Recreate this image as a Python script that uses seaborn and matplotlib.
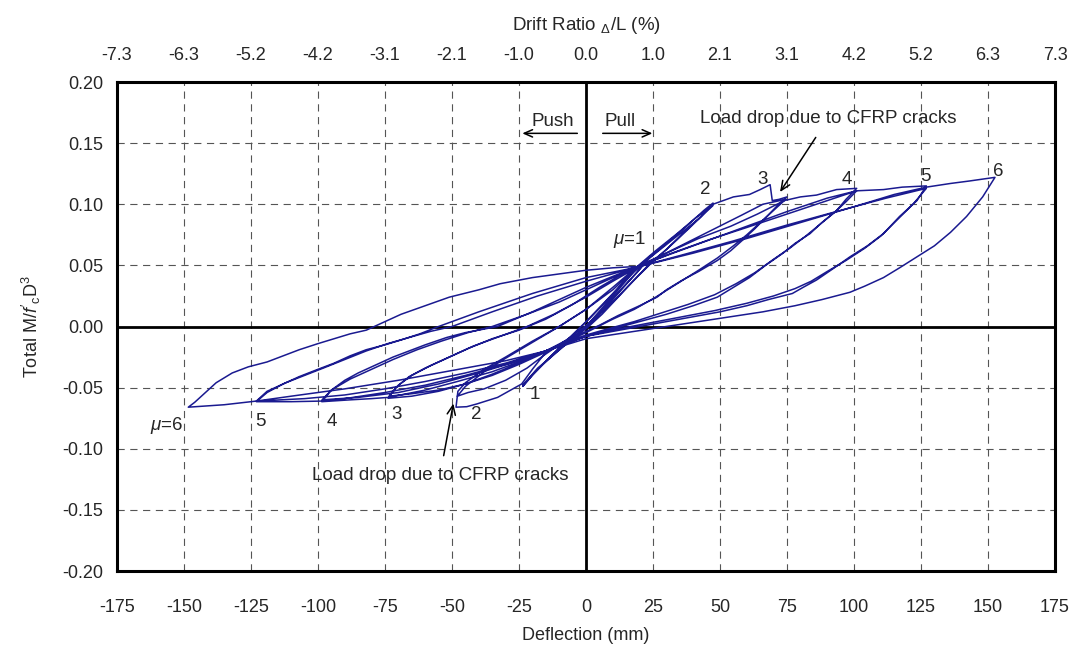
import numpy as np
import pandas as pd
import matplotlib
matplotlib.use("Agg")
import matplotlib.pyplot as plt
import seaborn as sns

# ---------------- data (deflection mm, normalised moment) ----------------
mu1_x = [0, 6, 12, 18, 24,
         20, 14, 8, 2, -4, -10, -16, -20, -23.6,
         -19, -13, -7, 0, 7, 13, 18, 24,
         19, 12, 5, 0, -6, -12, -18, -23.6]
mu1_y = [0, 0.015, 0.03, 0.045, 0.058,
         0.047, 0.032, 0.017, 0.003, -0.008, -0.019, -0.031, -0.04, -0.049,
         -0.037, -0.024, -0.011, 0.004, 0.02, 0.034, 0.046, 0.057,
         0.044, 0.028, 0.011, 0.0, -0.012, -0.023, -0.034, -0.048]

mu2_x = [-19, -12, -5, 2, 9, 16, 22, 30, 38, 44, 47.4,
         43, 38.8, 34, 30, 24, 18, 12, 6, 0, -8, -15, -20, -24, -33, -40.8, -44.5, -48.5, -47.8,
         -45, -38, -30, -20, -10, 0, 10, 18, 26, 34, 41, 47.4,
         42, 36, 30, 24, 17, 10, 3, -4, -10, -16, -22, -30, -38, -44, -48]
mu2_y = [-0.037, -0.022, -0.007, 0.008, 0.024, 0.041, 0.053, 0.068, 0.083, 0.095, 0.101,
         0.09, 0.081, 0.071, 0.063, 0.052, 0.038, 0.024, 0.01, -0.002, -0.013, -0.021, -0.035, -0.047, -0.058, -0.0634, -0.0656, -0.066, -0.053,
         -0.046, -0.035, -0.025, -0.012, 0.0, 0.014, 0.032, 0.047, 0.062, 0.076, 0.089, 0.099,
         0.088, 0.076, 0.063, 0.051, 0.036, 0.02, 0.006, -0.006, -0.015, -0.024, -0.034, -0.044, -0.051, -0.054, -0.057]

mu3_x = [-45, -38, -30, -20, -10, 0, 10, 18, 26, 34, 42, 47.4, 55, 61, 65, 68.7, 69.5, 72, 75,
         71, 67.5, 63, 58.6, 54, 49, 42, 36, 30, 26.5, 20, 12, 5, 0, -8, -15, -25, -35, -45, -55, -65, -73.8,
         -71, -66, -60, -52, -44, -35, -25, -15, -5, 5, 12, 18, 28, 38, 48, 58, 66, 74.5,
         70, 65, 60, 55, 49, 42, 34, 26, 18, 10, 0, -8, -15, -25, -35, -45, -55, -65, -73.5]
mu3_y = [-0.049, -0.037, -0.026, -0.013, 0.0, 0.014, 0.03, 0.046, 0.06, 0.074, 0.088, 0.1, 0.106, 0.108, 0.112, 0.116, 0.103, 0.104, 0.106,
         0.098, 0.09, 0.08, 0.071, 0.062, 0.054, 0.045, 0.038, 0.03, 0.024, 0.017, 0.009, 0.001, -0.004, -0.012, -0.02, -0.03, -0.039, -0.047, -0.053, -0.057, -0.0587,
         -0.05, -0.041, -0.034, -0.026, -0.018, -0.01, -0.003, 0.006, 0.018, 0.032, 0.041, 0.048, 0.058, 0.069, 0.08, 0.091, 0.1, 0.104,
         0.095, 0.085, 0.075, 0.066, 0.056, 0.046, 0.035, 0.024, 0.014, 0.006, -0.005, -0.013, -0.021, -0.031, -0.04, -0.047, -0.052, -0.055, -0.057]

mu4_x = [-70, -65, -58, -50, -42, -32, -22, -12, 0, 10, 18, 30, 42, 54, 64, 74, 80, 86, 93.5, 101,
         97, 93.6, 88, 83.6, 78, 73.5, 67, 61, 55, 49, 40, 30, 20, 10, 0, -8, -15, -25, -35, -48, -60, -73.8, -80, -88, -98.6,
         -95, -90, -85, -78, -72, -66, -60, -52, -45, -33, -20, -10, 0, 10, 18, 30, 45, 60, 75, 90, 101,
         97, 92, 87, 82, 76, 70, 63, 56, 48, 38, 28, 18, 8, 0, -8, -15, -28, -40, -55, -70, -85, -98.5]
mu4_y = [-0.048, -0.04, -0.032, -0.024, -0.016, -0.008, 0.0, 0.01, 0.024, 0.037, 0.047, 0.06, 0.072, 0.082, 0.092, 0.103, 0.106, 0.1075, 0.112, 0.113,
         0.104, 0.095, 0.085, 0.076, 0.068, 0.06, 0.05, 0.04, 0.032, 0.024, 0.017, 0.01, 0.004, -0.002, -0.008, -0.014, -0.02, -0.029, -0.037, -0.045, -0.052, -0.058, -0.059, -0.06, -0.0615,
         -0.052, -0.044, -0.038, -0.031, -0.025, -0.02, -0.015, -0.009, -0.005, 0.0, 0.012, 0.022, 0.032, 0.041, 0.048, 0.058, 0.07, 0.082, 0.094, 0.105, 0.111,
         0.102, 0.092, 0.083, 0.074, 0.064, 0.055, 0.044, 0.035, 0.026, 0.018, 0.011, 0.004, -0.002, -0.007, -0.013, -0.02, -0.03, -0.038, -0.047, -0.054, -0.058, -0.06]

mu5_x = [-95, -88, -80, -72, -63, -54, -44, -35, -22, -10, 0, 10, 18, 32, 46, 60, 75, 90, 101, 111, 118, 127,
         123.5, 117, 111, 105, 98.5, 92, 86, 81, 77, 68, 60, 50, 40, 30, 20, 10, 0, -8, -15, -30, -45, -60, -75, -90, -98.6, -110, -123,
         -119, -113, -107, -100, -94, -88, -82, -75, -69, -62, -55, -40, -20, 0, 18, 35, 55, 75, 95, 112, 127,
         122, 116, 110, 104, 97, 90, 84, 78, 70, 60, 48, 36, 24, 12, 0, -15, -30, -45, -60, -75, -90, -105, -123]
mu5_y = [-0.052, -0.043, -0.035, -0.027, -0.019, -0.012, -0.005, 0.0, 0.01, 0.02, 0.03, 0.04, 0.048, 0.06, 0.071, 0.081, 0.092, 0.103, 0.111, 0.112, 0.114, 0.115,
         0.103, 0.09, 0.076, 0.066, 0.057, 0.047, 0.038, 0.032, 0.027, 0.022, 0.017, 0.012, 0.008, 0.004, 0.0, -0.004, -0.008, -0.014, -0.02, -0.031, -0.04, -0.048, -0.054, -0.059, -0.061, -0.0615, -0.0615,
         -0.054, -0.047, -0.041, -0.035, -0.03, -0.024, -0.019, -0.015, -0.011, -0.006, 0.0, 0.012, 0.027, 0.04, 0.048, 0.058, 0.07, 0.083, 0.095, 0.105, 0.113,
         0.1, 0.087, 0.074, 0.064, 0.054, 0.045, 0.037, 0.031, 0.025, 0.019, 0.013, 0.008, 0.003, -0.002, -0.008, -0.02, -0.03, -0.038, -0.045, -0.051, -0.056, -0.059, -0.061]

mu6_x = [-119, -112, -105, -98, -90, -82, -74, -66, -58, -50, -35, -18, 0, 18, 40, 60, 80, 100, 115, 127, 136, 143, 152.6,
         148, 142, 136, 130, 123.5, 117, 111, 104, 98.5, 88, 78, 66, 54, 42, 30, 18, 6, 0, -15, -30, -50, -70, -90, -110, -123, -135, -148.4,
         -146, -144, -141, -138, -135, -132, -126, -119, -113, -107, -100, -94, -88, -82, -75, -69, -60, -51, -40, -32, -20, -10, 0, 10, 18]
mu6_y = [-0.053, -0.046, -0.04, -0.034, -0.027, -0.02, -0.014, -0.009, -0.004, 0.0, 0.012, 0.025, 0.037, 0.048, 0.06, 0.072, 0.085, 0.098, 0.108, 0.114, 0.117, 0.119, 0.122,
         0.106, 0.09, 0.077, 0.066, 0.057, 0.048, 0.04, 0.033, 0.028, 0.022, 0.017, 0.012, 0.008, 0.004, 0.0, -0.004, -0.008, -0.01, -0.02, -0.028, -0.036, -0.044, -0.051, -0.057, -0.061, -0.064, -0.066,
         -0.062, -0.058, -0.052, -0.046, -0.042, -0.038, -0.033, -0.029, -0.024, -0.019, -0.014, -0.01, -0.006, -0.003, 0.004, 0.01, 0.017, 0.024, 0.03, 0.035, 0.04, 0.043, 0.046, 0.048, 0.049]

x_ticks = [-175, -150, -125, -100, -75, -50, -25, 0, 25, 50, 75, 100, 125, 150, 175]
drift_labels = ["-7.3", "-6.3", "-5.2", "-4.2", "-3.1", "-2.1", "-1.0", "0.0",
                "1.0", "2.1", "3.1", "4.2", "5.2", "6.3", "7.3"]
y_ticks = [-0.20, -0.15, -0.10, -0.05, 0.00, 0.05, 0.10, 0.15, 0.20]

mu_top_labels = ["2", "3", "4", "5", "6"]
mu_top_pos = [(44.4, 0.112), (65.7, 0.120), (97.5, 0.120), (126.5, 0.123), (153.7, 0.127)]
mu_bot_labels = ["1", "2", "3", "4", "5"]
mu_bot_pos = [(-19, -0.056), (-41, -0.072), (-70.6, -0.0718), (-95, -0.078), (-121.4, -0.078)]

# ---------------- figure ----------------
sns.set_theme(style="white")
plt.rcParams['font.family'] = ['Liberation Sans', 'DejaVu Sans']
plt.rcParams['axes.unicode_minus'] = False
plt.rcParams['mathtext.fontset'] = 'custom'
plt.rcParams['mathtext.rm'] = 'Liberation Sans'
plt.rcParams['mathtext.it'] = 'Liberation Sans:italic'
plt.rcParams['mathtext.bf'] = 'Liberation Sans:bold'

W, H = 1081, 647
fig = plt.figure(figsize=(W / 100, H / 100), dpi=100)
fig.patch.set_facecolor('white')
ax = fig.add_axes([117 / W, 1 - 571 / H, (1055 - 117) / W, (571 - 82) / H])

xs = np.concatenate([mu1_x, mu2_x, mu3_x, mu4_x, mu5_x, mu6_x])
ys = np.concatenate([mu1_y, mu2_y, mu3_y, mu4_y, mu5_y, mu6_y])
df = pd.DataFrame({"Deflection": xs, "Moment": ys})

ax.set_xlim(-175, 175)
ax.set_ylim(-0.20, 0.20)
ax.set_xticks(x_ticks)
ax.set_xticklabels([str(v) for v in x_ticks])
ax.set_yticks(y_ticks)
ax.set_yticklabels([f"{v:.2f}" for v in y_ticks])
ax.grid(True, color='#555555', linestyle=(0, (6.5, 5)), linewidth=0.8)
ax.set_axisbelow(True)

ax.axhline(0, color='black', lw=2.0, zorder=2)
ax.axvline(0, color='black', lw=2.0, zorder=2)

sns.lineplot(data=df, x="Deflection", y="Moment", sort=False, estimator=None,
             color='#1a1a90', lw=1.1, ax=ax, zorder=3)

for s in ax.spines.values():
    s.set_linewidth(2.2)
    s.set_color('black')

ax.tick_params(axis='x', length=0, pad=20, labelsize=13)
ax.tick_params(axis='y', length=0, pad=10, labelsize=13)
ax.set_xlabel("Deflection (mm)", fontsize=13, labelpad=8)
ax.set_ylabel(r"Total M/$f'_{\mathrm{c}}$D$^{\mathrm{3}}$", fontsize=13, labelpad=14)

ax2 = ax.twiny()
ax2.set_xlim(ax.get_xlim())
ax2.set_xticks(x_ticks)
ax2.set_xticklabels(drift_labels)
ax2.tick_params(axis='x', length=0, pad=13, labelsize=13)
ax2.set_xlabel(r"Drift Ratio $_{\Delta}$/L (%)", fontsize=13.5, labelpad=12)
for s in ax2.spines.values():
    s.set_visible(False)

# labels on loops
for t, (px, py) in zip(mu_top_labels, mu_top_pos):
    ax.text(px, py, t, fontsize=13.5, ha='center', va='center', zorder=4)
for t, (px, py) in zip(mu_bot_labels, mu_bot_pos):
    ax.text(px, py, t, fontsize=13.5, ha='center', va='center', zorder=4)
ax.text(16.4, 0.071, r"$\mu$=1", fontsize=13.5, ha='center', va='center', zorder=4)
ax.text(-156.5, -0.0806, r"$\mu$=6", fontsize=13.5, ha='center', va='center', zorder=4)

# Push / Pull
ax.text(-12.2, 0.1675, "Push", fontsize=13.5, ha='center', va='center')
ax.text(12.7, 0.1675, "Pull", fontsize=13.5, ha='center', va='center')
arr = dict(arrowstyle='->,head_length=0.5,head_width=0.22', color='black', lw=1.1)
ax.annotate('', xy=(-24.8, 0.158), xytext=(-2.2, 0.158), arrowprops=arr)
ax.annotate('', xy=(25.8, 0.158), xytext=(5.2, 0.158), arrowprops=arr)

# load drop annotations
ax.annotate("Load drop due to CFRP cracks", xy=(72.4, 0.110), xytext=(90.3, 0.170),
            fontsize=13.5, ha='center', va='center',
            arrowprops=dict(arrowstyle='->,head_length=0.5,head_width=0.22', color='black', lw=1.1,
                            shrinkA=6, shrinkB=0))
ax.annotate("Load drop due to CFRP cracks", xy=(-49.5, -0.063), xytext=(-54.5, -0.122),
            fontsize=13.5, ha='center', va='center',
            arrowprops=dict(arrowstyle='->,head_length=0.5,head_width=0.22', color='black', lw=1.1,
                            shrinkA=6, shrinkB=0))

fig.savefig("out.png", dpi=100, facecolor='white')
